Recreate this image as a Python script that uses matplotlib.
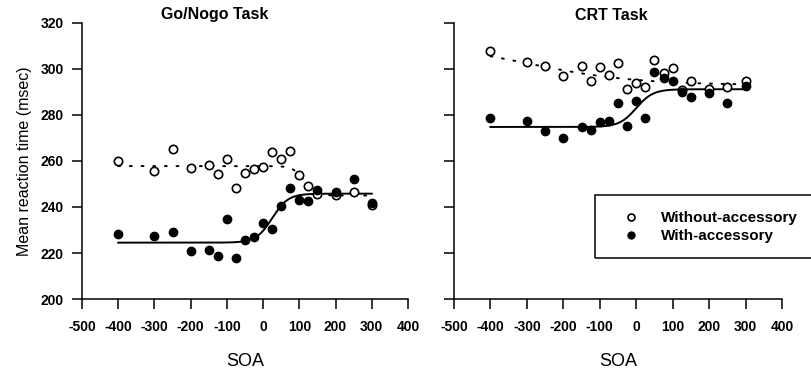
import numpy as np
import matplotlib
matplotlib.use("Agg")
import matplotlib.pyplot as plt
from matplotlib.lines import Line2D
from matplotlib.patches import Rectangle

plt.rcParams['font.family'] = ['Liberation Sans', 'DejaVu Sans']
plt.rcParams['axes.unicode_minus'] = False

# SOA values (msec)
soa = [-400, -300, -250, -200, -150, -125, -100, -75, -50, -25,
       0, 25, 50, 75, 100, 125, 150, 200, 250, 300]

# Go/Nogo task
gonogo_without = [259.8, 255.5, 265.2, 256.9, 258.2, 254.5, 260.8, 248.3, 254.8, 256.4,
                  257.5, 263.9, 260.8, 264.4, 253.7, 249.0, 245.6, 245.4, 246.7, 240.8]
gonogo_with = [228.4, 227.3, 229.0, 220.7, 221.4, 218.5, 234.9, 218.0, 225.5, 226.8,
               233.0, 230.4, 240.3, 248.3, 243.2, 242.4, 247.6, 246.6, 252.3, 241.8]

# CRT task
crt_without = [308.0, 303.2, 301.2, 297.1, 301.2, 295.0, 300.8, 297.4, 302.5, 291.2,
               294.1, 292.1, 304.0, 298.2, 300.4, 291.0, 294.6, 291.5, 292.1, 294.8]
crt_with = [278.7, 277.5, 272.9, 269.8, 274.8, 273.6, 276.8, 277.2, 285.2, 275.3,
            286.2, 278.9, 298.9, 296.0, 295.0, 290.2, 288.0, 289.6, 285.2, 292.4]

# fitted logistic curves: [start level, end level, centre, scale]
gonogo_without_fit = [257.8, 245.0, 113, 15]
gonogo_with_fit = [224.5, 245.8, 25, 22]
crt_without_fit = [312.0, 293.0, -300, 150]
crt_with_fit = [274.8, 291.2, 0, 23]

xticks = [-500, -400, -300, -200, -100, 0, 100, 200, 300, 400]
yticks = [200, 220, 240, 260, 280, 300, 320]


def logistic(x, p):
    lo, hi, c, s = p
    return lo + (hi - lo) / (1 + np.exp(-(x - c) / s))


fig = plt.figure(figsize=(8.11, 3.73), dpi=100)
ax1 = fig.add_axes([82 / 811, 1 - 299 / 373, 326 / 811, 276 / 373])
ax2 = fig.add_axes([454 / 811, 1 - 299 / 373, 328 / 811, 276 / 373])

xs = np.linspace(-400, 300, 300)

panels = [
    (ax1, "Go/Nogo Task", gonogo_without, gonogo_with, gonogo_without_fit, gonogo_with_fit, 215),
    (ax2, "CRT Task", crt_without, crt_with, crt_without_fit, crt_with_fit, 611),
]

for ax, title, wo, wi, wo_fit, wi_fit, title_x in panels:
    ax.plot(xs, logistic(xs, wo_fit), color='black', lw=1.4, linestyle=(0, (1, 5)),
            dash_capstyle='round')
    ax.plot(xs, logistic(xs, wi_fit), color='black', lw=1.4)
    ax.plot(soa, wo, 'o', ms=6, mfc='white', mec='black', mew=1.2, linestyle='none')
    ax.plot(soa, wi, 'o', ms=6, mfc='black', mec='black', linestyle='none')

    ax.set_xlim(-500, 400)
    ax.set_ylim(200, 320)
    ax.set_xticks(xticks)
    ax.set_yticks(yticks)
    for side in ['top', 'right']:
        ax.spines[side].set_visible(False)
    for side in ['left', 'bottom']:
        ax.spines[side].set_linewidth(1.1)
    ax.tick_params(direction='out', length=7, width=1.1, labelsize=10)
    ax.tick_params(axis='x', pad=8)
    ax.tick_params(axis='y', pad=6)
    for lab in ax.get_xticklabels() + ax.get_yticklabels():
        lab.set_fontweight('bold')
    ax.set_xlabel("SOA", fontsize=13, labelpad=14)
    fig.text(title_x / 811, 1 - 15 / 373, title, ha='center', va='center',
             fontsize=11.5, fontweight='bold')

ax1.set_ylabel("Mean reaction time (msec)", fontsize=11.5, labelpad=6)
ax2.tick_params(axis='y', labelleft=False)

# legend box runs off the right edge of the figure
fig.patches.append(Rectangle((595 / 811, 1 - 258 / 373), 0.3, 63 / 373,
                             transform=fig.transFigure, fill=False,
                             edgecolor='black', lw=1.1))
handles = [
    Line2D([], [], marker='o', ms=5, mfc='white', mec='black', mew=1.2, linestyle='none'),
    Line2D([], [], marker='o', ms=5, mfc='black', mec='black', linestyle='none'),
]
fig.legend(handles, ["Without-accessory", "With-accessory"], loc='center left',
           bbox_to_anchor=(612 / 811, 1 - 227 / 373), frameon=False,
           prop={'weight': 'bold', 'size': 11}, handletextpad=1.2,
           labelspacing=0.25, borderpad=0, handlelength=1.5)

fig.savefig("out.png", dpi=100)
